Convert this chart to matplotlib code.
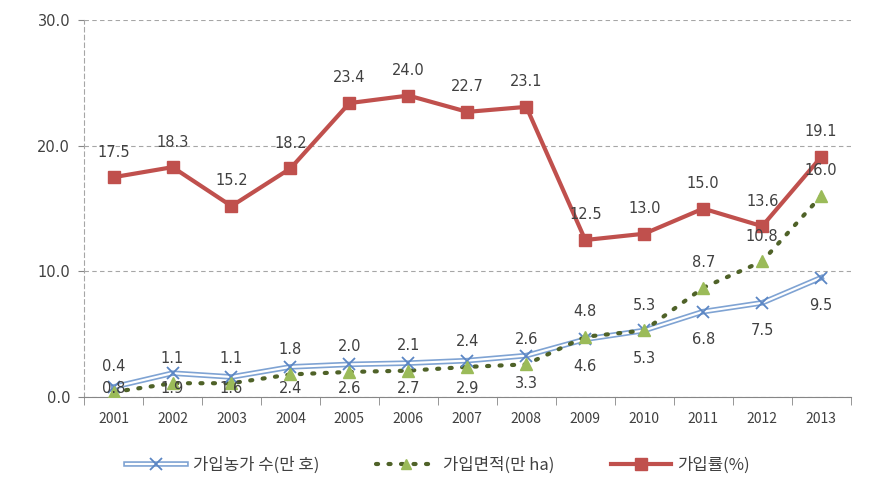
import matplotlib.pyplot as plt
from matplotlib.lines import Line2D
from matplotlib.legend_handler import HandlerTuple

plt.rcParams['font.family'] = ['Noto Sans CJK KR', 'DejaVu Sans']

years = ['2001', '2002', '2003', '2004', '2005', '2006', '2007',
         '2008', '2009', '2010', '2011', '2012', '2013']
farms = [0.8, 1.9, 1.6, 2.4, 2.6, 2.7, 2.9, 3.3, 4.6, 5.3, 6.8, 7.5, 9.5]      # 가입농가 수(만 호)
area = [0.4, 1.1, 1.1, 1.8, 2.0, 2.1, 2.4, 2.6, 4.8, 5.3, 8.7, 10.8, 16.0]    # 가입면적(만 ha)
rate = [17.5, 18.3, 15.2, 18.2, 23.4, 24.0, 22.7, 23.1, 12.5, 13.0, 15.0, 13.6, 19.1]  # 가입률(%)
labels = ['가입농가 수(만 호)', '가입면적(만 ha)', '가입률(%)']

blue = '#7FA3D3'
blue_x = '#5B86C4'
olive = '#4F6228'
green = '#9BBB59'
red = '#C0504D'
txt = '#404040'
num_font = 'DejaVu Sans'

fig = plt.figure(figsize=(8.76, 4.92), dpi=100)
ax = fig.add_axes([0.096, 0.193, 0.875, 0.766])

x = list(range(len(years)))
dots = (0, (0.5, 2.5))

# farms: double line look
ax.plot(x, farms, color=blue, lw=4.0, zorder=3)
ax.plot(x, farms, color='white', lw=1.6, zorder=3)
ax.plot(x, farms, ls='none', marker='x', ms=8, mew=1.3, color=blue_x, zorder=4)

# area: dotted
ax.plot(x, area, color=olive, lw=3, ls=dots, dash_capstyle='round', zorder=3)
ax.plot(x, area, ls='none', marker='^', ms=8, color=green, zorder=4)

# rate
ax.plot(x, rate, color=red, lw=3, marker='s', ms=8, zorder=5)

# data labels
for i in x:
    ax.text(i, rate[i] + 2.0, f'{rate[i]:.1f}', ha='center', va='center', fontsize=10.5,
            color=txt, family=num_font, zorder=6)
    ax.text(i, area[i] + 2.0, f'{area[i]:.1f}', ha='center', va='center', fontsize=10.5,
            color=txt, family=num_font, zorder=6)
    ax.text(i, max(farms[i] - 2.2, 0.65), f'{farms[i]:.1f}', ha='center', va='center',
            fontsize=10.5, color=txt, family=num_font, zorder=6)

ax.set_xlim(-0.5, 12.5)
ax.set_ylim(0, 30)
ax.set_yticks([0, 10, 20, 30])
ax.set_yticklabels(['0.0', '10.0', '20.0', '30.0'], fontsize=10.5, color=txt, family=num_font)
ax.set_xticks(x)
ax.set_xticklabels(years, fontsize=10, color=txt)
ax.set_xticks([i + 0.5 for i in x[:-1]] + [-0.5, 12.5], minor=True)
ax.tick_params(axis='x', which='major', length=0, pad=11)
ax.tick_params(axis='x', which='minor', length=6, color='#868686')
ax.tick_params(axis='y', length=4, color='#868686', pad=6)

ax.grid(axis='y', ls=(0, (4, 3)), color='#A6A6A6', lw=0.8)
ax.set_axisbelow(True)
for s in ['top', 'right']:
    ax.spines[s].set_visible(False)
ax.spines['left'].set_linestyle((0, (4, 3)))
ax.spines['left'].set_color('#A6A6A6')
ax.spines['bottom'].set_color('#868686')

h1 = (Line2D([], [], color=blue, lw=4.0), Line2D([], [], color='white', lw=1.6),
      Line2D([], [], ls='none', marker='x', ms=8, mew=1.3, color=blue_x))
h2 = (Line2D([], [], color=olive, lw=3, ls=dots, dash_capstyle='round'),
      Line2D([], [], ls='none', marker='^', ms=7, color=green))
h3 = Line2D([], [], color=red, lw=3, marker='s', ms=8)
fig.legend([h1, h2, h3], labels, ncol=3, frameon=False, loc='center',
           bbox_to_anchor=(0.5, 0.055), fontsize=12, handlelength=3.6,
           columnspacing=3.4, handletextpad=0.4, labelcolor=txt,
           handler_map={tuple: HandlerTuple(ndivide=1)})

fig.savefig('out.png', dpi=100)
